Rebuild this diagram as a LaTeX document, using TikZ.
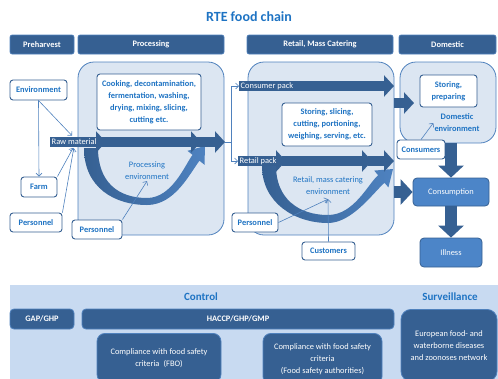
\documentclass[tikz,border=0pt]{standalone}
\usepackage{fontspec}
\setmainfont{Carlito}
\usepackage{tikz}
\usetikzlibrary{arrows.meta}

\definecolor{dblue}{RGB}{54,96,146}
\definecolor{mblue}{RGB}{79,129,189}
\definecolor{lblue}{RGB}{220,230,242}
\definecolor{pblue}{RGB}{200,218,241}
\definecolor{tblue}{RGB}{30,115,195}
\definecolor{cblue}{RGB}{76,133,200}
\definecolor{sblue}{RGB}{78,130,192}

\tikzset{
  hdr/.style={fill=dblue, draw=mblue, line width=0.6pt, rounded corners=2pt, text=white,
    font=\fontsize{8.4}{12}\selectfont\bfseries, minimum height=19},
  cont/.style={fill=lblue, draw=mblue, line width=0.8pt, rounded corners=16pt},
  wbox/.style={fill=white, draw=dblue, line width=0.9pt, rounded corners=3pt, text=tblue,
    font=\fontsize{8.4}{12}\selectfont\bfseries, align=center},
  envtxt/.style={text=tblue, align=center},
  plabel/.style={text=white, anchor=west, inner xsep=1.5pt},
  cbox/.style={fill=cblue, draw=dblue, line width=0.8pt, rounded corners=4pt, text=white},
  dbox/.style={fill=dblue, draw=mblue, line width=0.8pt, rounded corners=4pt, text=white, align=center},
  ttl/.style={text=tblue, font=\fontsize{11}{13}\selectfont\bfseries},
  barrow/.style={draw=dblue, line width=10pt, -{Triangle[width=21pt,length=10pt]}},
  bigarrow/.style={draw=dblue, line width=12pt, -{Triangle[width=25pt,length=12pt]}},
  tarrow/.style={draw=mblue, line width=0.6pt, -{Straight Barb[length=3pt,width=6pt]}},
  tline/.style={draw=mblue, line width=0.6pt}
}

\begin{document}
\begin{tikzpicture}[x=1pt, y=-1pt, every node/.style={font=\fontsize{8.4}{12}\selectfont, inner sep=1pt}]
  \useasboundingbox (0,0) rectangle (498,378);

  % Title and stage headers
  \node[font=\fontsize{14}{16}\selectfont\bfseries, text=tblue] (title) at (249,17) {RTE food chain};
  \node[hdr, minimum width=64] (preh) at (42,44.5) {Preharvest};
  \node[hdr, minimum width=146] (proc) at (151,44.5) {Processing};
  \node[hdr, minimum width=146] (retail) at (320,44.5) {Retail, Mass Catering};
  \node[hdr, minimum width=97] (dom) at (447.5,44.5) {Domestic};

  % Stage containers
  \node[cont, minimum width=146, minimum height=173] (proccont) at (151,148.5) {};
  \node[cont, minimum width=146, minimum height=173] (retcont) at (321,148.5) {};
  \node[cont, minimum width=96, minimum height=81] (domcont) at (448,102.5) {};

  % Curved environment arrows
  \shade[left color=dblue, right color=sblue]
    (84,148) .. controls (84,188) and (115,205) .. (147,205)
    .. controls (175,205) and (190,173) .. (199.5,160.7)
    -- (204.5,164.8) -- (205,146) -- (187.5,150.8) -- (192.5,154.9)
    .. controls (185,165) and (172,198) .. (147,198)
    .. controls (118,198) and (98,182) .. (98,148) -- cycle;
  \shade[left color=dblue, right color=sblue]
    (262,166) .. controls (262,203) and (295,223) .. (328,223)
    .. controls (352,223) and (373,193) .. (384.5,182.8)
    -- (388.4,187.4) -- (393,169) -- (374.2,170.6) -- (378.1,175.2)
    .. controls (368,184) and (354,215) .. (328,215)
    .. controls (298,215) and (276,198) .. (276,166) -- cycle;

  % Product flow
  \draw[barrow] (50,142) -- (106,142);
  \draw[barrow] (100,142) -- (201,142);
  \draw[barrow] (196,142) -- (225,142);
  \draw[barrow] (239,86) -- (394,86);
  \draw[barrow] (238,161) -- (286,161);
  \draw[barrow] (282,161) -- (372,161);
  \draw[barrow] (368,161) -- (394,161);
  \node[plabel] (raw) at (50,142) {Raw material};
  \node[plabel] (cpack) at (239,86) {Consumer pack};
  \node[plabel] (rpack) at (238,161) {Retail pack};

  \coordinate (procout) at (225,142);
  \coordinate (jn) at (231,142);
  \draw[tline] (procout) -- (jn);
  \draw[tarrow] (jn) |- (cpack.west);
  \draw[tarrow] (jn) |- (rpack.west);

  % Process boxes
  \node[wbox, minimum width=104, minimum height=56] (cook) at (149,102)
    {Cooking, decontamination,\\ fermentation, washing,\\ drying, mixing, slicing,\\ cutting etc.};
  \node[wbox, minimum width=90, minimum height=43] (store) at (327,124.5)
    {Storing, slicing,\\ cutting, portioning,\\ weighing, serving, etc.};
  \node[wbox, minimum width=57, minimum height=32] (prep) at (448.5,91) {Storing,\\ preparing};

  \node[envtxt] (procenv) at (147,171) {Processing\\ environment};
  \node[envtxt, inner sep=4pt] (retenv) at (328,186) {Retail, mass catering\\ environment};
  \node[envtxt, font=\fontsize{8.4}{12}\selectfont\bfseries] (domenv) at (457,123) {Domestic\\ environment};

  % Sources of contamination
  \node[wbox, minimum width=57, minimum height=20] (env) at (38.5,90) {Environment};
  \node[wbox, minimum width=36, minimum height=20] (farm) at (39,187) {Farm};
  \node[wbox, minimum width=52, minimum height=19] (pers1) at (36,222.5) {Personnel};
  \node[wbox, minimum width=50, minimum height=19] (pers2) at (97,229.5) {Personnel};
  \node[wbox, minimum width=46, minimum height=19] (pers3) at (255,222.5) {Personnel};
  \node[wbox, minimum width=53, minimum height=18] (cust) at (328.5,251) {Customers};
  \node[wbox, minimum width=48, minimum height=19] (cons) at (421,149.5) {Consumers};

  \draw[tarrow] (env.south) -- (farm.north);
  \draw[tarrow, shorten >=3pt] (env.south) -- (raw.north);
  \draw[tarrow, shorten >=2pt] (farm.north east) -- (raw.south);
  \draw[tarrow, shorten >=2pt] (pers1.north east) -- (raw.south);
  \draw[tarrow] (pers2.north east) -- (procenv.south);
  \draw[tarrow] (pers3.east) -- (retenv.south);
  \draw[tarrow] (cust.north) -- (retenv.south);
  \draw[tarrow] (cons.north) -- (domenv.west);

  % Consumption and illness
  \node[cbox, minimum width=76, minimum height=28] (consumption) at (451,192) {Consumption};
  \node[cbox, minimum width=62, minimum height=29] (illness) at (451,252.5) {Illness};

  \draw[barrow] (394,103) -- (414,103);
  \draw[bigarrow] (retcont.east |- consumption) -- (consumption.west);
  \draw[bigarrow] (domcont.south -| consumption) -- (consumption.north);
  \draw[bigarrow] (consumption.south) -- (illness.north);

  % Control and surveillance
  \node[fill=pblue, minimum width=488, minimum height=95, anchor=north west, inner sep=0] (panel) at (10,285) {};
  \node[ttl] (ctrl) at (201,297) {Control};
  \node[ttl] (surv) at (450,297) {Surveillance};
  \node[dbox, font=\fontsize{8.4}{12}\selectfont\bfseries, minimum width=64, minimum height=20] (gap) at (42,319) {GAP/GHP};
  \node[dbox, font=\fontsize{8.4}{12}\selectfont\bfseries, minimum width=312, minimum height=20] (haccp) at (238,319) {HACCP/GHP/GMP};
  \node[dbox, anchor=north, minimum width=124, inner ysep=15pt, rounded corners=8pt] (fbo) at (159,333)
    {Compliance with food safety\\ criteria\enspace(FBO)};
  \node[dbox, anchor=north, minimum width=119, inner ysep=10pt, rounded corners=8pt] (fsa) at (322.5,333)
    {Compliance with food safety\\ criteria\\ (Food safety authorities)};
  \node[dbox, anchor=north, minimum width=96, inner ysep=21pt, rounded corners=10pt] (eunet) at (449,309)
    {European food- and\\ waterborne diseases\\ and zoonoses network};
\end{tikzpicture}
\end{document}
